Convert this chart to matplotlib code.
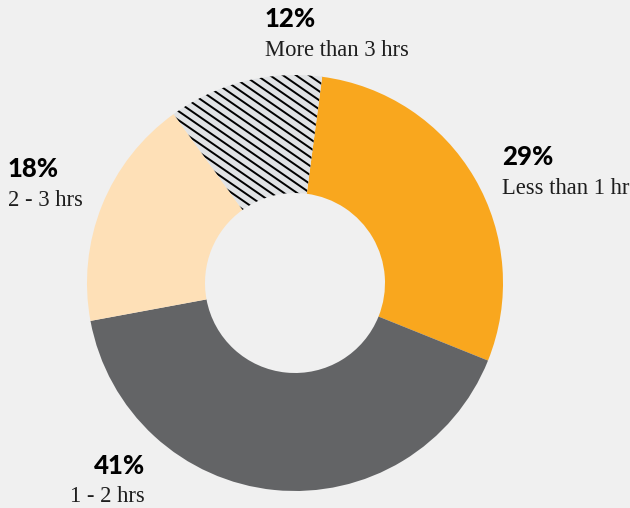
import numpy as np
import matplotlib.pyplot as plt

# Daily time spent, share of respondents
categories = ['Less than 1 hr', '1 - 2 hrs', '2 - 3 hrs', 'More than 3 hrs']
shares = [29, 41, 18, 12]
colors = ['#F9A71E', '#636466', '#FEE0B7', '#E1E3E5']

BG = '#F0F0F0'
W, H = 630, 508

fig = plt.figure(figsize=(W / 100, H / 100), dpi=100, facecolor=BG)
ax = fig.add_axes([0, 0, 1, 1])
ax.set_facecolor(BG)

cx, cy = 295, H - 283
R_OUT, R_IN = 208, 90

wedges, _ = ax.pie(shares, colors=colors, startangle=82.5, counterclock=False,
                   center=(cx, cy), radius=R_OUT,
                   wedgeprops=dict(width=R_OUT - R_IN, linewidth=0))

# striped fill for the last slice
hatched = wedges[3]
slope = -0.69
step = 9
xs = np.array([0, W])
for c in np.arange(-200, H + 700, step):
    ln, = ax.plot(xs, slope * xs + c, color='black', lw=1.4, solid_capstyle='butt')
    ln.set_clip_path(hatched)

ax.set_xlim(0, W)
ax.set_ylim(0, H)
ax.set_aspect('equal')
ax.axis('off')

pct_font = dict(family='Lato', weight='black', size=18.5, color='black')
sub_font = dict(family='Liberation Serif', size=16.3, color='#1E1E1E')

# label anchors: (x, y of percent, y of caption, alignment)
label_pos = {
    'Less than 1 hr': (502, 157, 189, 'left'),
    '1 - 2 hrs': (145, 466, 497, 'right'),
    '2 - 3 hrs': (8, 169, 200, 'left'),
    'More than 3 hrs': (265, 19, 50, 'left'),
}
for cat, val in zip(categories, shares):
    x, yp, ys, ha = label_pos[cat]
    ax.text(x, H - yp, f'{val}%', ha=ha, va='center', **pct_font)
    ax.text(x, H - ys, cat, ha=ha, va='center', **sub_font)

fig.savefig('out.png', dpi=100, facecolor=BG)
